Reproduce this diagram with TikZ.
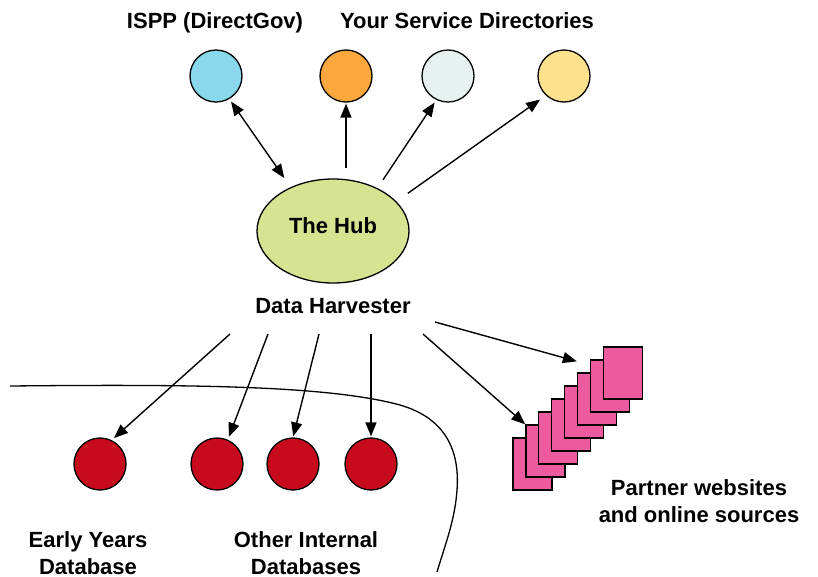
\documentclass[tikz,border=0pt]{standalone}
\usepackage{fontspec}
\setmainfont{Liberation Sans}
\usetikzlibrary{arrows.meta,shapes.geometric}

\definecolor{isppblue}{RGB}{137,216,236}
\definecolor{sdorange}{RGB}{252,166,62}
\definecolor{sdgrey}{RGB}{230,241,240}
\definecolor{sdyellow}{RGB}{253,225,140}
\definecolor{hubgreen}{RGB}{214,228,145}
\definecolor{dbred}{RGB}{200,10,30}
\definecolor{docpink}{RGB}{236,90,160}

\begin{document}
\begin{tikzpicture}[x=1pt,y=-1pt,
		lbl/.style={font=\fontsize{22}{27}\selectfont\bfseries, align=center, anchor=base},
		dir/.style={circle, draw, line width=1.3pt, minimum size=52pt, inner sep=0pt},
		db/.style={dir, fill=dbred},
		doc/.style={rectangle, draw, fill=docpink, line width=1.3pt, minimum width=39pt, minimum height=52pt, inner sep=0pt},
		arr/.style={-{Triangle[length=14pt,width=11pt]}, line width=1.4pt},
		arrs/.style={{Triangle[length=14pt,width=11pt]}-{Triangle[length=14pt,width=11pt]}, line width=1.4pt}]
		
		\useasboundingbox (0,0) rectangle (818,576);
		
		% Service directories
		\node[dir, fill=isppblue] (ispp) at (216,76) {};
		\node[dir, fill=sdorange] (sdorange) at (346,76) {};
		\node[dir, fill=sdgrey] (sdgrey) at (448,76) {};
		\node[dir, fill=sdyellow] (sdyellow) at (564,76) {};
		\node[lbl] (ispplbl) at (215,28) {ISPP (DirectGov)};
		\node[lbl] (sdlbl) at (467,28) {Your Service Directories};
		
		% The hub
		\node[ellipse, draw, fill=hubgreen, line width=1.3pt, minimum width=152pt, minimum height=104pt, inner sep=0pt,
			font=\fontsize{22}{27}\selectfont\bfseries, text depth=10pt] (hub) at (333,231) {The Hub};
		\node[lbl] (harvester) at (333,313) {Data Harvester};
		
		\draw[arrs, shorten <=11pt, shorten >=3pt] (hub.134) -- (ispp.-60);
		\draw[arr, shorten <=10pt, shorten >=1pt] (hub.north -| sdorange.south) -- (sdorange.south);
		\draw[arr, shorten <=10pt, shorten >=3pt] (hub.44) -- (sdgrey.-116);
		\draw[arr, shorten <=14pt, shorten >=7pt] (hub.25) -- (sdyellow.-133);
		
		% Boundary line
		\draw[line width=1.3pt] (10,386) .. controls (200,384) and (330,386) .. (400,405)
			.. controls (445,418) and (460,450) .. (457,490)
			.. controls (455,520) and (445,545) .. (437,572);
		
		% Internal databases
		\node[db] (eydb) at (100,464) {};
		\node[db] (intdb1) at (217,464) {};
		\node[db] (intdb2) at (293,464) {};
		\node[db] (intdb3) at (371,464) {};
		\node[lbl] (eylbl) at (88,574) {Early Years\\Database};
		\node[lbl] (intlbl) at (306,574) {Other Internal\\Databases};
		
		% Partner websites
		\foreach \i in {0,...,7}
			\node[doc] (doc\i) at ({532.5+12.9*\i},{464-13*\i}) {};
		\node[lbl] (partnerlbl) at (699,522) {Partner websites\\and online sources};
		
		\coordinate (tap1) at (230,334);
		\coordinate (tap2) at (268,334);
		\coordinate (tap3) at (319,334);
		\coordinate (tap4) at (371,334);
		\coordinate (tap5) at (423,334);
		\coordinate (tap6) at (435,322);
		
		\draw[arr, shorten >=3pt] (tap1) -- (eydb.64);
		\draw[arr, shorten >=3pt] (tap2) -- (intdb1.66);
		\draw[arr, shorten >=1pt] (tap3) -- (intdb2.north);
		\draw[arr, shorten >=1pt] (tap4) -- (intdb3.north);
		\draw[arr] (tap5) -- (doc1.north west);
		\draw[arr] (tap6) -- ([yshift=11pt]doc5.north west);
		
	\end{tikzpicture}
\end{document}
